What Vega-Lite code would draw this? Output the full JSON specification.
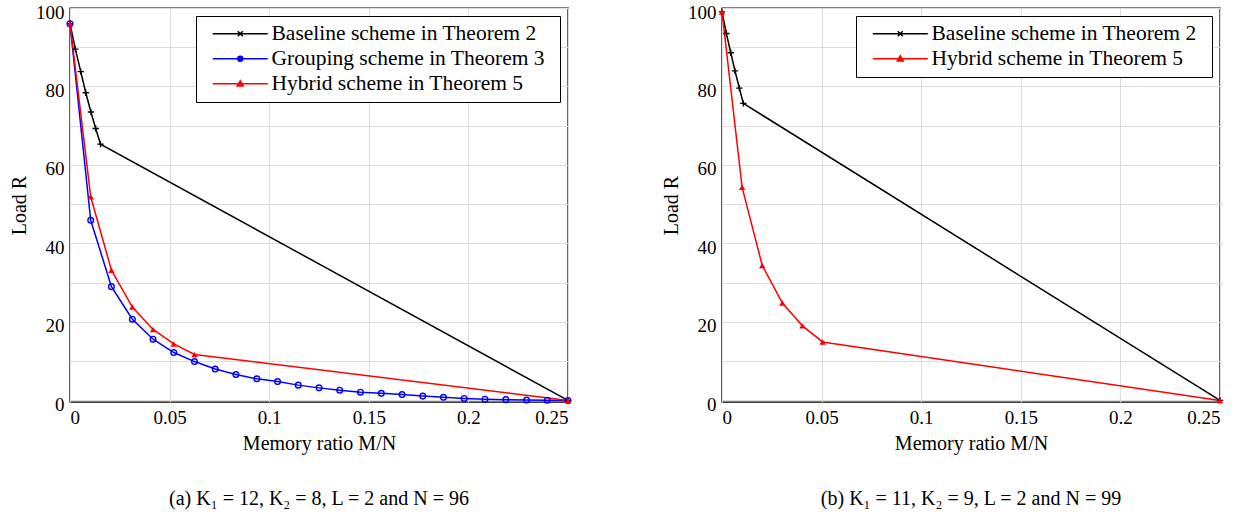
{
  "$schema": "https://vega.github.io/schema/vega-lite/v6.json",
  "background": "white",
  "padding": {"left": 8, "top": 2, "right": 5, "bottom": 5},
  "spacing": 85,
  "resolve": {"scale": {"color": "independent"}, "legend": {"color": "independent"}},
  "config": {
    "font": "Liberation Serif, Times New Roman, DejaVu Serif, serif",
    "view": {"stroke": "black", "strokeWidth": 1.4},
    "axis": {
      "labelFont": "Liberation Serif, Times New Roman, DejaVu Serif, serif", "titleFont": "Liberation Serif, Times New Roman, DejaVu Serif, serif",
      "labelFontSize": 19, "titleFontSize": 20, "titleFontWeight": "normal",
      "labelColor": "black", "titleColor": "black",
      "gridColor": "#dcdcdc", "gridWidth": 1, "ticks": false, "domain": false,
      "labelPadding": 6, "titlePadding": 6, "labelOverlap": false, "labelBound": false
    },
    "axisY": {"labelOffset": 4},
    "legend": {"titleOrient": "right", "titlePadding": 8, "titleFontSize": 1, "titleColor": "white"},
    "title": {"font": "Liberation Serif, Times New Roman, DejaVu Serif, serif", "fontSize": 20, "fontWeight": "normal", "color": "black"}
  },
  "hconcat": [
    {
      "width": 498, "height": 394,
      "title": {"text": "(a) K₁ = 12, K₂ = 8, L = 2 and N = 96", "orient": "bottom", "offset": 36},
      "data": {"values": [
        {"series": "Baseline scheme in Theorem 2", "x": 0, "y": 96},
        {"series": "Baseline scheme in Theorem 2", "x": 0.0027, "y": 89.5},
        {"series": "Baseline scheme in Theorem 2", "x": 0.0054, "y": 83.8},
        {"series": "Baseline scheme in Theorem 2", "x": 0.0079, "y": 78.4},
        {"series": "Baseline scheme in Theorem 2", "x": 0.0105, "y": 73.5},
        {"series": "Baseline scheme in Theorem 2", "x": 0.0129, "y": 69.3},
        {"series": "Baseline scheme in Theorem 2", "x": 0.0153, "y": 65.3},
        {"series": "Baseline scheme in Theorem 2", "x": 0.25, "y": 0},
        {"series": "Grouping scheme in Theorem 3", "x": 0, "y": 96},
        {"series": "Grouping scheme in Theorem 3", "x": 0.0104, "y": 45.9},
        {"series": "Grouping scheme in Theorem 3", "x": 0.0208, "y": 29.0},
        {"series": "Grouping scheme in Theorem 3", "x": 0.0313, "y": 20.7},
        {"series": "Grouping scheme in Theorem 3", "x": 0.0417, "y": 15.6},
        {"series": "Grouping scheme in Theorem 3", "x": 0.0521, "y": 12.2},
        {"series": "Grouping scheme in Theorem 3", "x": 0.0625, "y": 9.9},
        {"series": "Grouping scheme in Theorem 3", "x": 0.0729, "y": 8.0},
        {"series": "Grouping scheme in Theorem 3", "x": 0.0833, "y": 6.6},
        {"series": "Grouping scheme in Theorem 3", "x": 0.0938, "y": 5.5},
        {"series": "Grouping scheme in Theorem 3", "x": 0.1042, "y": 4.8},
        {"series": "Grouping scheme in Theorem 3", "x": 0.1146, "y": 3.9},
        {"series": "Grouping scheme in Theorem 3", "x": 0.125, "y": 3.2},
        {"series": "Grouping scheme in Theorem 3", "x": 0.1354, "y": 2.6},
        {"series": "Grouping scheme in Theorem 3", "x": 0.1458, "y": 2.1},
        {"series": "Grouping scheme in Theorem 3", "x": 0.1563, "y": 1.8},
        {"series": "Grouping scheme in Theorem 3", "x": 0.1667, "y": 1.5},
        {"series": "Grouping scheme in Theorem 3", "x": 0.1771, "y": 1.1},
        {"series": "Grouping scheme in Theorem 3", "x": 0.1875, "y": 0.8},
        {"series": "Grouping scheme in Theorem 3", "x": 0.1979, "y": 0.5},
        {"series": "Grouping scheme in Theorem 3", "x": 0.2083, "y": 0.3},
        {"series": "Grouping scheme in Theorem 3", "x": 0.2188, "y": 0.2},
        {"series": "Grouping scheme in Theorem 3", "x": 0.2292, "y": 0.1},
        {"series": "Grouping scheme in Theorem 3", "x": 0.2396, "y": 0.05},
        {"series": "Grouping scheme in Theorem 3", "x": 0.25, "y": 0},
        {"series": "Hybrid scheme in Theorem 5", "x": 0, "y": 96},
        {"series": "Hybrid scheme in Theorem 5", "x": 0.0104, "y": 51.9},
        {"series": "Hybrid scheme in Theorem 5", "x": 0.0208, "y": 33.2},
        {"series": "Hybrid scheme in Theorem 5", "x": 0.0313, "y": 23.8},
        {"series": "Hybrid scheme in Theorem 5", "x": 0.0417, "y": 18.1},
        {"series": "Hybrid scheme in Theorem 5", "x": 0.0521, "y": 14.4},
        {"series": "Hybrid scheme in Theorem 5", "x": 0.0625, "y": 11.7},
        {"series": "Hybrid scheme in Theorem 5", "x": 0.25, "y": 0}
      ]},
      "encoding": {
        "x": {"field": "x", "type": "quantitative",
          "scale": {"domain": [0, 0.25], "nice": false, "zero": false},
          "axis": {"title": "Memory ratio M/N", "values": [0, 0.05, 0.1, 0.15, 0.2, 0.25], "format": "~g"}},
        "y": {"field": "y", "type": "quantitative",
          "scale": {"domain": [-0.4, 100], "nice": false, "zero": false},
          "axis": {"title": "Load R", "values": [0, 10, 20, 30, 40, 50, 60, 70, 80, 90, 100],
            "labelExpr": "datum.value % 20 === 0 ? datum.label : ''"}},
        "color": {"field": "series", "type": "nominal",
          "scale": {"domain": ["Baseline scheme in Theorem 2", "Grouping scheme in Theorem 3", "Hybrid scheme in Theorem 5"], "range": ["black", "blue", "red"]},
          "legend": {
            "title": " ", "orient": "top-right", "offset": 8, "padding": 7,
            "strokeColor": "black", "fillColor": "white", "cornerRadius": 0,
            "labelFont": "Liberation Serif, Times New Roman, DejaVu Serif, serif", "labelFontSize": 21.5, "labelColor": "black", "labelLimit": 500,
            "symbolSize": 100, "symbolStrokeWidth": 1.5, "labelOffset": 47, "rowPadding": 2,
            "encode": {"symbols": {"update": {
              "shape": {"signal": "test(/Baseline/, datum.value) ? 'M-0.2,0L10.8,0M4.8,-0.5L5.8,0.5M4.8,0.5L5.8,-0.5' : test(/Grouping/, datum.value) ? 'M-0.2,0L10.8,0M5.8,0A0.5,0.5 0 1,1 4.8,0A0.5,0.5 0 1,1 5.8,0' : 'M-0.2,0L10.8,0M5.3,-0.6L5.9,0.45L4.7,0.45Z'"},
              "fill": {"signal": "test(/Hybrid/, datum.value) ? 'red' : 'transparent'"},
              "stroke": {"signal": "test(/Baseline/, datum.value) ? 'black' : test(/Grouping/, datum.value) ? 'blue' : 'red'"},
              "opacity": {"value": 1}, "fillOpacity": {"value": 1}, "strokeOpacity": {"value": 1}
            }}}
          }}
      },
      "layer": [
        {"mark": {"type": "line", "strokeWidth": 1.5}},
        {"transform": [{"filter": "datum.series === 'Baseline scheme in Theorem 2'"}],
         "mark": {"type": "point", "shape": "M-1,0L1,0M0,-1L0,1", "size": 40, "filled": false, "strokeWidth": 1.3, "opacity": 1}},
        {"transform": [{"filter": "datum.series === 'Grouping scheme in Theorem 3'"}],
         "mark": {"type": "point", "shape": "circle", "size": 32, "filled": false, "strokeWidth": 1.4, "opacity": 1}},
        {"transform": [{"filter": "datum.series === 'Hybrid scheme in Theorem 5'"}],
         "mark": {"type": "point", "shape": "triangle-up", "size": 40, "filled": true, "opacity": 1}}
      ]
    },
    {
      "width": 498, "height": 394,
      "title": {"text": "(b) K₁ = 11, K₂ = 9, L = 2 and N = 99", "orient": "bottom", "offset": 36},
      "data": {"values": [
        {"series": "Baseline scheme in Theorem 2", "x": 0, "y": 99},
        {"series": "Baseline scheme in Theorem 2", "x": 0.0022, "y": 93.5},
        {"series": "Baseline scheme in Theorem 2", "x": 0.0044, "y": 88.6},
        {"series": "Baseline scheme in Theorem 2", "x": 0.0065, "y": 84.0},
        {"series": "Baseline scheme in Theorem 2", "x": 0.0087, "y": 79.6},
        {"series": "Baseline scheme in Theorem 2", "x": 0.0107, "y": 75.7},
        {"series": "Baseline scheme in Theorem 2", "x": 0.25, "y": 0},
        {"series": "Hybrid scheme in Theorem 5", "x": 0, "y": 99},
        {"series": "Hybrid scheme in Theorem 5", "x": 0.0101, "y": 54.3},
        {"series": "Hybrid scheme in Theorem 5", "x": 0.0202, "y": 34.4},
        {"series": "Hybrid scheme in Theorem 5", "x": 0.0303, "y": 24.8},
        {"series": "Hybrid scheme in Theorem 5", "x": 0.0404, "y": 19.0},
        {"series": "Hybrid scheme in Theorem 5", "x": 0.0505, "y": 14.9},
        {"series": "Hybrid scheme in Theorem 5", "x": 0.25, "y": 0}
      ]},
      "encoding": {
        "x": {"field": "x", "type": "quantitative",
          "scale": {"domain": [0, 0.25], "nice": false, "zero": false},
          "axis": {"title": "Memory ratio M/N", "values": [0, 0.05, 0.1, 0.15, 0.2, 0.25], "format": "~g"}},
        "y": {"field": "y", "type": "quantitative",
          "scale": {"domain": [-0.4, 100], "nice": false, "zero": false},
          "axis": {"title": "Load R", "values": [0, 10, 20, 30, 40, 50, 60, 70, 80, 90, 100],
            "labelExpr": "datum.value % 20 === 0 ? datum.label : ''"}},
        "color": {"field": "series", "type": "nominal",
          "scale": {"domain": ["Baseline scheme in Theorem 2", "Hybrid scheme in Theorem 5"], "range": ["black", "red"]},
          "legend": {
            "title": " ", "orient": "top-right", "offset": 8, "padding": 7,
            "strokeColor": "black", "fillColor": "white", "cornerRadius": 0,
            "labelFont": "Liberation Serif, Times New Roman, DejaVu Serif, serif", "labelFontSize": 21.5, "labelColor": "black", "labelLimit": 500,
            "symbolSize": 100, "symbolStrokeWidth": 1.5, "labelOffset": 47, "rowPadding": 2,
            "encode": {"symbols": {"update": {
              "shape": {"signal": "test(/Baseline/, datum.value) ? 'M-0.2,0L10.8,0M4.8,-0.5L5.8,0.5M4.8,0.5L5.8,-0.5' : 'M-0.2,0L10.8,0M5.3,-0.6L5.9,0.45L4.7,0.45Z'"},
              "fill": {"signal": "test(/Hybrid/, datum.value) ? 'red' : 'transparent'"},
              "stroke": {"signal": "test(/Baseline/, datum.value) ? 'black' : 'red'"},
              "opacity": {"value": 1}, "fillOpacity": {"value": 1}, "strokeOpacity": {"value": 1}
            }}}
          }}
      },
      "layer": [
        {"mark": {"type": "line", "strokeWidth": 1.5}},
        {"transform": [{"filter": "datum.series === 'Baseline scheme in Theorem 2'"}],
         "mark": {"type": "point", "shape": "M-1,0L1,0M0,-1L0,1", "size": 40, "filled": false, "strokeWidth": 1.3, "opacity": 1}},
        {"transform": [{"filter": "datum.series === 'Hybrid scheme in Theorem 5'"}],
         "mark": {"type": "point", "shape": "triangle-up", "size": 40, "filled": true, "opacity": 1}}
      ]
    }
  ]
}
